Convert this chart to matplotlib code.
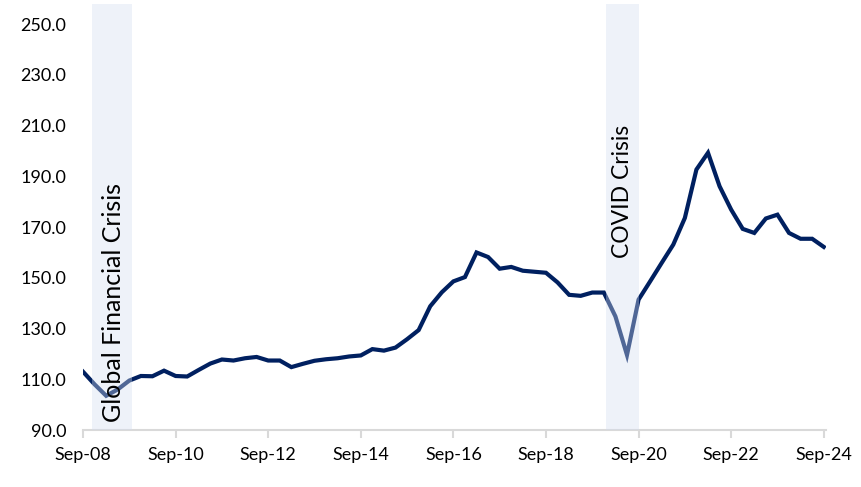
import numpy as np
import matplotlib.pyplot as plt

plt.rcParams['font.family'] = ['Lato', 'DejaVu Sans']

# quarterly index values, Sep-08 .. Sep-24
start_year = 2008.75
values = [113.0, 108.0, 103.5, 106.0, 109.5, 111.3, 111.2, 113.4, 111.3, 111.1,
          113.7, 116.2, 117.8, 117.4, 118.3, 118.8, 117.4, 117.4, 114.8, 116.1,
          117.3, 117.9, 118.3, 119.0, 119.4, 121.9, 121.3, 122.5, 125.8, 129.4,
          138.8, 144.3, 148.6, 150.3, 160.0, 158.2, 153.6, 154.3, 152.8, 152.4,
          152.0, 148.2, 143.3, 142.9, 144.2, 144.2, 134.8, 119.6, 141.4, 148.6,
          155.9, 163.1, 173.6, 192.7, 199.3, 186.1, 176.9, 169.3, 167.7, 173.4,
          174.9, 167.7, 165.4, 165.4, 162.2]

tick_years = [2008, 2010, 2012, 2014, 2016, 2018, 2020, 2022, 2024]
tick_labels = ['Sep-08', 'Sep-10', 'Sep-12', 'Sep-14', 'Sep-16',
               'Sep-18', 'Sep-20', 'Sep-22', 'Sep-24']

crises = ['Global Financial Crisis', 'COVID Crisis']
crisis_start = [2008.94, 2020.05]
crisis_end = [2009.81, 2020.75]

x = start_year + 0.25 * np.arange(len(values))

fig = plt.figure(figsize=(8.62, 4.87), dpi=100)
ax = fig.add_axes([0.0963, 0.117, 0.862, 0.875])

ax.plot(x, values, color='#002060', lw=3.0, solid_joinstyle='miter', zorder=2)

label_pos = [(2009.40, 93.2), (2020.41, 158)]
label_size = [18, 16.5]
for name, a, b, (tx, ty), fs in zip(crises, crisis_start, crisis_end, label_pos, label_size):
    ax.axvspan(a, b, color='#d3ddf0', alpha=0.38, lw=0, zorder=3)
    ax.text(tx, ty, name, rotation=90, ha='center', va='bottom',
            fontsize=fs, color='black', zorder=4)

ax.set_xlim(2008.75, 2024.8)
ax.set_ylim(90, 258)
ax.set_yticks(np.arange(90, 251, 20))
ax.set_yticklabels([f'{v:.1f}' for v in np.arange(90, 251, 20)])
ax.set_xticks([y + 0.75 for y in tick_years])
ax.set_xticklabels(tick_labels)

for s in ['top', 'right', 'left']:
    ax.spines[s].set_visible(False)
ax.spines['bottom'].set_color('#d9d9d9')
ax.spines['bottom'].set_linewidth(1.5)
ax.tick_params(axis='y', length=0, labelsize=13, pad=12)
ax.tick_params(axis='x', length=6, width=1.5, color='#d9d9d9', labelsize=13, pad=6)

plt.savefig('out.png', dpi=100)
